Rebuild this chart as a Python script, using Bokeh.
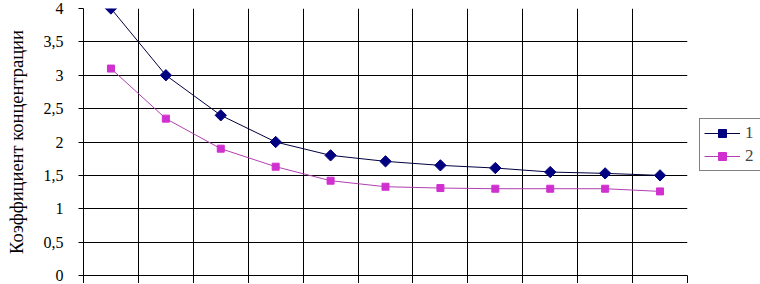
from bokeh.plotting import figure
from bokeh.models import FixedTicker, Legend, LegendItem, Range1d
from bokeh.embed import file_html
from bokeh.resources import INLINE
import math

# data
x_pos = [1, 2, 3, 4, 5, 6, 7, 8, 9, 10, 11]
series_1 = [4.0, 3.0, 2.4, 2.0, 1.8, 1.71, 1.65, 1.61, 1.55, 1.53, 1.5]
series_2 = [3.1, 2.35, 1.9, 1.63, 1.42, 1.33, 1.31, 1.3, 1.3, 1.3, 1.26]
y_ticks = [0, 0.5, 1, 1.5, 2, 2.5, 3, 3.5, 4]
y_tick_labels = ["0", "0,5", "1", "1,5", "2", "2,5", "3", "3,5", "4"]
x_bounds = [0.5 + i for i in range(12)]
legend_labels = ["1", "2"]
y_title = "Коэффициент концентрации"

FONT = "'Liberation Serif', 'Times New Roman', serif"

p = figure(frame_width=604, frame_height=267, output_backend="svg", toolbar_location=None,
           min_border_left=83, min_border_top=8, min_border_bottom=0, min_border_right=73,
           x_range=Range1d(0.5, 11.5), y_range=Range1d(0, 4))
p.outline_line_color = None
p.background_fill_color = "white"

# y axis
p.yaxis.ticker = FixedTicker(ticks=y_ticks)
p.yaxis.major_label_overrides = {t: l for t, l in zip(y_ticks, y_tick_labels)}
p.yaxis.major_label_text_font = FONT
p.yaxis.major_label_text_font_size = "16px"
p.yaxis.major_label_text_color = "black"
p.yaxis.major_tick_in = 0
p.yaxis.major_tick_out = 5
p.yaxis.minor_tick_line_color = None
p.yaxis.axis_line_color = "black"
p.yaxis.major_tick_line_color = "black"
p.yaxis.axis_label = y_title
p.yaxis.axis_label_text_font = FONT
p.yaxis.axis_label_text_font_style = "normal"
p.yaxis.axis_label_text_font_size = "18.5px"
p.yaxis.axis_label_text_color = "black"
p.yaxis.major_label_standoff = 15
p.yaxis.axis_label_standoff = 14

# x axis (tick labels are outside the visible area in the reference)
p.xaxis.ticker = FixedTicker(ticks=x_bounds)
p.xaxis.major_label_overrides = {t: "" for t in x_bounds}
p.xaxis.major_label_text_font_size = "1px"
p.xaxis.major_label_standoff = 0
p.xaxis.major_tick_in = 0
p.xaxis.major_tick_out = 8
p.xaxis.minor_tick_line_color = None
p.xaxis.axis_line_color = "black"
p.xaxis.major_tick_line_color = "black"

p.xgrid.grid_line_color = "black"
p.ygrid.grid_line_color = "black"
p.xgrid.grid_line_width = 1
p.ygrid.grid_line_width = 1

l1 = p.line(x_pos, series_1, line_color="#000040", line_width=1)
m1 = p.scatter(x_pos, series_1, marker="square", angle=math.pi / 4, size=8,
               fill_color="#000080", line_color="#000080")
l2 = p.line(x_pos, series_2, line_color="#B040B0", line_width=1)
m2 = p.scatter(x_pos, series_2, marker="square", size=7,
               fill_color="#D030D0", line_color="#D030D0")

legend = Legend(items=[LegendItem(label=legend_labels[0], renderers=[l1, m1]),
                       LegendItem(label=legend_labels[1], renderers=[l2, m2])],
                location=(12, 104))
legend.label_text_font = FONT
legend.label_text_font_size = "17px"
legend.glyph_width = 36
legend.glyph_height = 20
legend.label_standoff = 5
legend.padding = 4
legend.spacing = 3
legend.margin = 0
legend.border_line_color = "black"
legend.border_line_width = 1
legend.background_fill_alpha = 0
p.add_layout(legend, "right")

open("out.html", "w").write(file_html(p, INLINE))
